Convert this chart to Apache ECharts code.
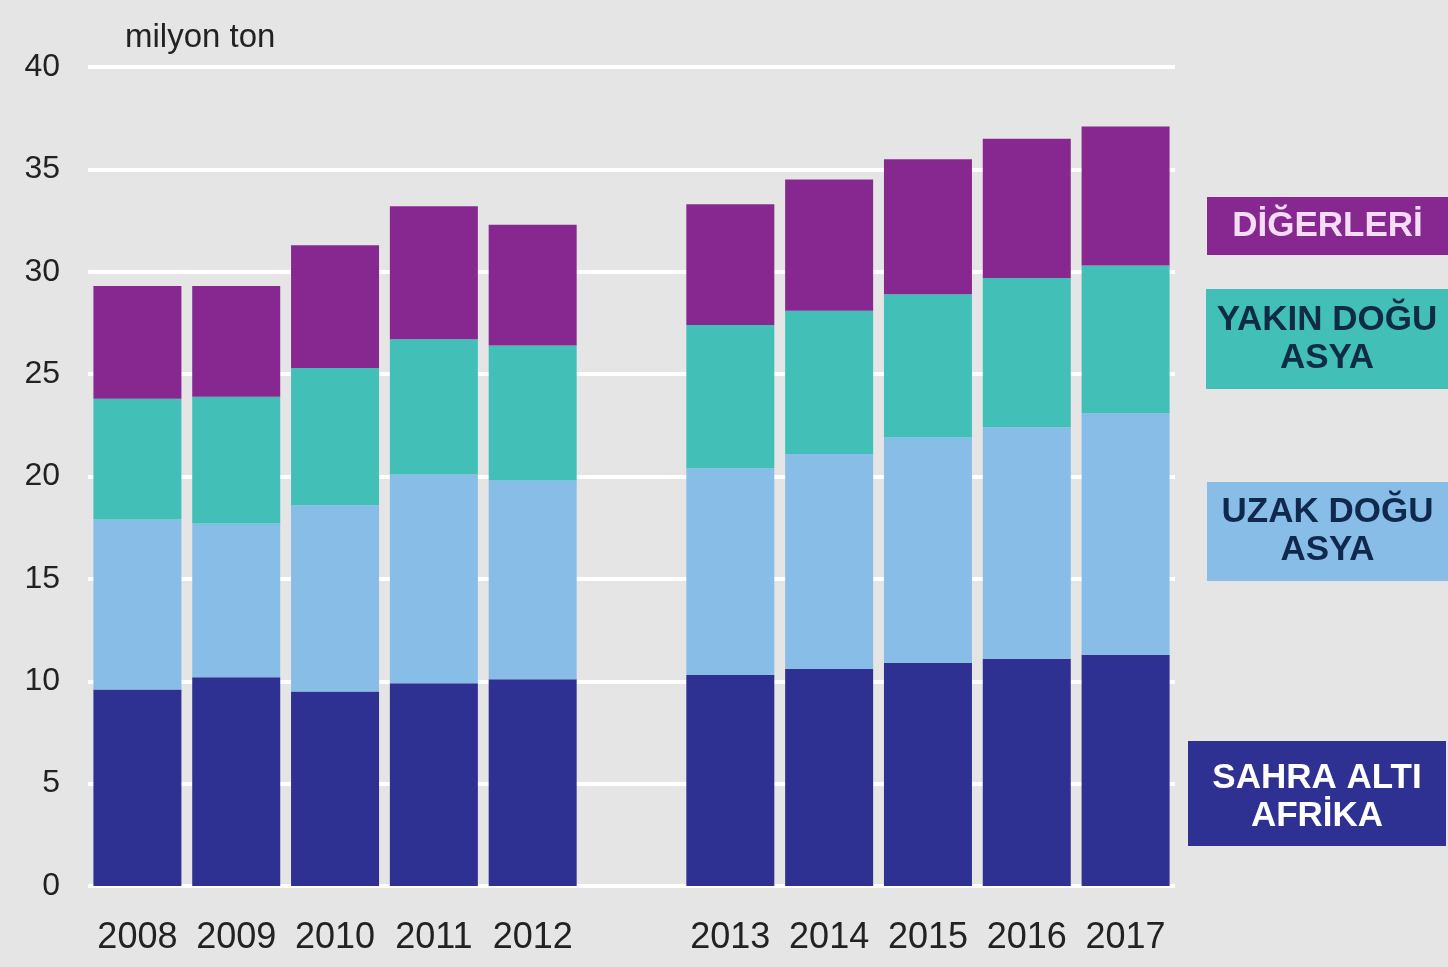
<!DOCTYPE html>
<html>
<head>
<meta charset="utf-8">
<script src="https://cdn.jsdelivr.net/npm/echarts@6/dist/echarts.min.js"></script>
<style>
  html, body { margin: 0; padding: 0; background: #e5e5e5; }
  #chart { width: 1448px; height: 967px; }
</style>
</head>
<body>
<div id="chart"></div>
<script>
// Years on the x axis; the empty entry separates the two periods
const years = ['2008', '2009', '2010', '2011', '2012', '', '2013', '2014', '2015', '2016', '2017'];

// Regional amounts, million tonnes (null = spacer column)
const sahraAltiAfrika = [9.6, 10.2, 9.5, 9.9, 10.1, null, 10.3, 10.6, 10.9, 11.1, 11.3];
const uzakDoguAsya    = [8.3, 7.5, 9.1, 10.2, 9.7, null, 10.1, 10.5, 11.0, 11.3, 11.8];
const yakinDoguAsya   = [5.9, 6.2, 6.7, 6.6, 6.6, null, 7.0, 7.0, 7.0, 7.3, 7.2];
const digerleri       = [5.5, 5.4, 6.0, 6.5, 5.9, null, 5.9, 6.4, 6.6, 6.8, 6.8];

const yTicks = [0, 5, 10, 15, 20, 25, 30, 35, 40];
const unitLabel = 'milyon ton';

const seriesNames = ['SAHRA ALTI\nAFRİKA', 'UZAK DOĞU\nASYA', 'YAKIN DOĞU\nASYA', 'DİĞERLERİ'];
const seriesData = [sahraAltiAfrika, uzakDoguAsya, yakinDoguAsya, digerleri];
const colors = ['#2e3192', '#88bde8', '#42c0b8', '#862890'];
const textColors = ['#ffffff', '#10284d', '#0f2b45', '#f6dcf6'];

const chart = echarts.init(document.getElementById('chart'));

const font = '"Liberation Sans", Arial, sans-serif';

// Legend boxes placed to the right of the plot
const legendBoxes = [
  { x: 1188, y: 741, w: 258, h: 105, ty: 797 },
  { x: 1207, y: 482, w: 241, h: 99, ty: 531 },
  { x: 1206, y: 289, w: 242, h: 100, ty: 339 },
  { x: 1207, y: 197, w: 241, h: 58, ty: 226 }
];

const graphics = [];
legendBoxes.forEach((b, i) => {
  graphics.push({
    type: 'rect',
    shape: { x: b.x, y: b.y, width: b.w, height: b.h },
    style: { fill: colors[i] },
    z: 10
  });
  graphics.push({
    type: 'text',
    x: b.x + b.w / 2,
    y: b.ty,
    style: {
      text: seriesNames[i],
      fill: textColors[i],
      font: 'bold 35px ' + font,
      align: 'center',
      verticalAlign: 'middle',
      lineHeight: 38
    },
    z: 11
  });
});
graphics.push({
  type: 'text',
  x: 125,
  y: 38,
  style: {
    text: unitLabel,
    fill: '#222',
    font: '33px ' + font,
    align: 'left',
    verticalAlign: 'middle'
  }
});

chart.setOption({
  backgroundColor: '#e5e5e5',
  animation: false,
  grid: { left: 88, right: 273, top: 67, bottom: 81, containLabel: false },
  xAxis: {
    type: 'category',
    data: years,
    axisLine: { show: false },
    axisTick: { show: false },
    axisLabel: {
      color: '#222', fontSize: 36, fontFamily: font, margin: 34,
      interval: 0, hideOverlap: false
    }
  },
  yAxis: {
    type: 'value',
    min: yTicks[0],
    max: yTicks[yTicks.length - 1],
    interval: 5,
    axisLine: { show: false },
    axisTick: { show: false },
    axisLabel: { color: '#222', fontSize: 32, fontFamily: font, margin: 28 },
    splitLine: { lineStyle: { color: '#ffffff', width: 4 } }
  },
  series: seriesData.map((d, i) => ({
    type: 'bar',
    name: seriesNames[i],
    stack: 'total',
    data: d,
    barWidth: 88,
    itemStyle: { color: colors[i] }
  })),
  graphic: graphics
});
</script>
</body>
</html>
